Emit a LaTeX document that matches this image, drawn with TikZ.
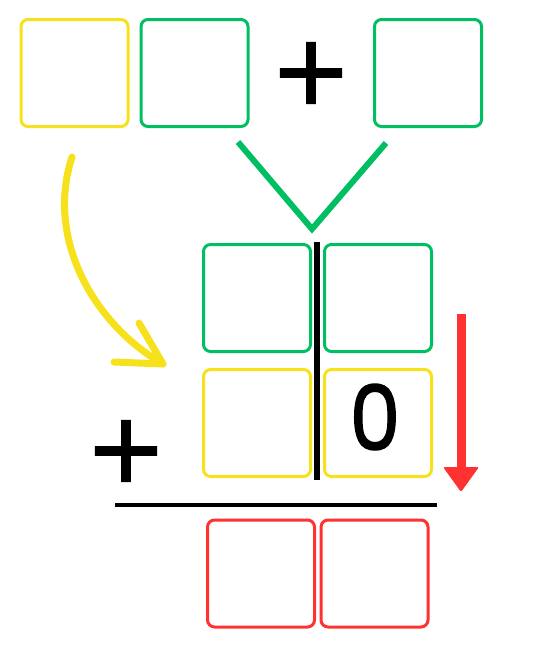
\documentclass[tikz,border=0pt]{standalone}
\usepackage{fontspec}
\newfontfamily\digitfont[FakeBold=1.5]{Poppins}
\newfontfamily\plusfont[FakeBold=2]{DejaVu Sans}
\definecolor{cyel}{HTML}{F7E01C}
\definecolor{cgrn}{HTML}{00BF63}
\definecolor{cred}{HTML}{FF3131}
\tikzset{
  cell/.style={draw, rounded corners=7pt, line width=3pt, minimum width=107pt, minimum height=107pt, inner sep=0pt},
  ycell/.style={cell, draw=cyel},
  gcell/.style={cell, draw=cgrn},
  rcell/.style={cell, draw=cred},
  plussign/.style={font=\plusfont\fontsize{96}{96}\selectfont, inner sep=0pt},
}
\begin{document}
\begin{tikzpicture}[x=1pt,y=-1pt]
\path[use as bounding box] (0,0) rectangle (533,656);
% top row
\node[ycell] (ty) at (74.5,73) {};
\node[gcell] (tg1) at (194.5,73) {};
\node[plussign] (tplus) at (311,73) {+};
\node[gcell] (tg2) at (428,73) {};
% grid
\node[gcell] (gtl) at (257,298) {};
\node[gcell] (gtr) at (378,298) {};
\node[ycell] (gbl) at (257,423) {};
\node[ycell] (gbr) at (378,423) {};
\node[font=\digitfont\fontsize{90}{90}\selectfont, inner sep=0pt, xscale=0.9] (zero) at (375,417) {0};
\node[plussign] (bplus) at (126,451) {+};
% results
\node[rcell] (r1) at (261,573.5) {};
\node[rcell] (r2) at (374.5,573.5) {};
% divider lines
\coordinate (vtop) at (317,242);
\coordinate (vbot) at (317,480);
\draw[line width=6pt] (vtop) -- (vbot);
\coordinate (hl) at (115,505);
\coordinate (hr) at (437,505);
\draw[line width=4pt] (hl) -- (hr);
% green V
\coordinate (va) at (238,142);
\coordinate (vb) at (312,229);
\coordinate (vc) at (386,143);
\draw[cgrn, line width=6pt] (va) -- (vb) -- (vc);
% yellow arrow
\coordinate (ys) at (72,157);
\coordinate (yt) at (163,364);
\coordinate (ya1) at (139,323);
\coordinate (ya2) at (114,362);
\draw[cyel, line width=7pt, line cap=round] (ys) .. controls (45,240) and (95,325) .. (yt);
\draw[cyel, line width=7pt, line cap=round, line join=round] (ya1) -- (yt) -- (ya2);
% red arrow
\coordinate (rs) at (461,314);
\coordinate (re) at (461,470);
\draw[cred, line width=9pt] (rs) -- (re);
\fill[cred, rounded corners=2pt] (443,467) -- (479,467) -- (461,492) -- cycle;
\end{tikzpicture}
\end{document}
